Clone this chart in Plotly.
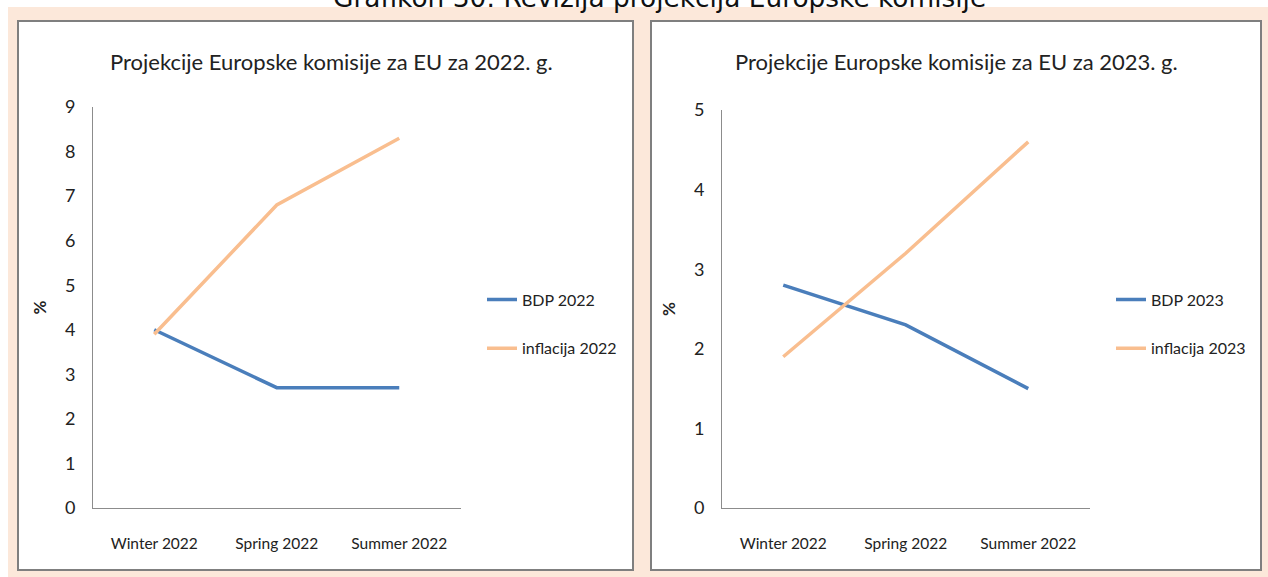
import plotly.graph_objects as go

W, H = 1268, 577

categories = ["Winter 2022", "Spring 2022", "Summer 2022"]
bdp_2022 = [4.0, 2.7, 2.7]
infl_2022 = [3.9, 6.8, 8.3]
bdp_2023 = [2.8, 2.3, 1.5]
infl_2023 = [1.9, 3.2, 4.6]

title_main = "Grafikon 30: Revizija projekcija Europske komisije"
title_left = "Projekcije Europske komisije za EU za 2022. g."
title_right = "Projekcije Europske komisije za EU za 2023. g."

BLUE = "#4a7ebb"
PEACH = "#f9be8f"
BG = "#fce8da"
FONT = "Lato, Open Sans, sans-serif"
TXT = "#222222"

def px(x):
    return x / W

def py(y):
    return 1 - y / H

fig = go.Figure()
fig.add_trace(go.Scatter(x=categories, y=bdp_2022, mode="lines", name="BDP 2022",
                         line=dict(color=BLUE, width=3.5), xaxis="x", yaxis="y",
                         legend="legend", legendgroup="a"))
fig.add_trace(go.Scatter(x=categories, y=infl_2022, mode="lines", name="inflacija 2022",
                         line=dict(color=PEACH, width=3.5), xaxis="x", yaxis="y",
                         legend="legend", legendgroup="b"))
fig.add_trace(go.Scatter(x=categories, y=bdp_2023, mode="lines", name="BDP 2023",
                         line=dict(color=BLUE, width=3.5), xaxis="x2", yaxis="y2",
                         legend="legend2", legendgroup="c"))
fig.add_trace(go.Scatter(x=categories, y=infl_2023, mode="lines", name="inflacija 2023",
                         line=dict(color=PEACH, width=3.5), xaxis="x2", yaxis="y2",
                         legend="legend2", legendgroup="d"))

axis_common = dict(showgrid=False, zeroline=False, showline=True, linecolor="#8c8c8c",
                   linewidth=1, ticks="", automargin=False)
xtick = dict(family=FONT, size=15.5, color=TXT)
ytick = dict(family=FONT, size=18, color=TXT)
ytitle = dict(text="<b>%</b>", font=dict(family=FONT, size=17, color=TXT), standoff=13)

fig.update_layout(
    width=W, height=H,
    margin=dict(l=0, r=0, t=0, b=0, pad=0, autoexpand=False),
    paper_bgcolor="white", plot_bgcolor="rgba(0,0,0,0)",
    xaxis=dict(axis_common, domain=[px(93), px(460.5)], range=[-0.5, 2.5], anchor="y",
               ticklabelstandoff=21, tickfont=xtick),
    yaxis=dict(axis_common, domain=[py(508), py(107)], range=[0, 9], dtick=1, anchor="x",
               ticklabelstandoff=13, tickfont=ytick, title=ytitle),
    xaxis2=dict(axis_common, domain=[px(722), px(1089.5)], range=[-0.5, 2.5], anchor="y2",
                ticklabelstandoff=21, tickfont=xtick),
    yaxis2=dict(axis_common, domain=[py(508), py(110)], range=[0, 5], dtick=1, anchor="x2",
                ticklabelstandoff=13, tickfont=ytick, title=ytitle),
    legend=dict(x=px(482), y=py(324), xanchor="left", yanchor="middle",
                bgcolor="rgba(0,0,0,0)", tracegroupgap=25,
                font=dict(family=FONT, size=16, color=TXT)),
    legend2=dict(x=px(1111), y=py(324), xanchor="left", yanchor="middle",
                 bgcolor="rgba(0,0,0,0)", tracegroupgap=25,
                 font=dict(family=FONT, size=16, color=TXT)),
    showlegend=True,
)

shapes = [
    dict(type="rect", xref="paper", yref="paper", x0=px(8), x1=1, y0=0, y1=py(7),
         fillcolor=BG, line=dict(width=0), layer="below"),
    dict(type="rect", xref="paper", yref="paper", x0=px(18), x1=px(633), y0=py(570), y1=py(21),
         fillcolor="white", line=dict(color="#7f7f7f", width=2), layer="below"),
    dict(type="rect", xref="paper", yref="paper", x0=px(651), x1=px(1261), y0=py(570), y1=py(21),
         fillcolor="white", line=dict(color="#7f7f7f", width=2), layer="below"),
]
fig.update_layout(shapes=shapes)

fig.add_annotation(text=title_main, xref="paper", yref="paper", x=px(659), y=py(-3),
                   xanchor="center", yanchor="middle", showarrow=False,
                   font=dict(family="DejaVu Sans", size=26.4, color="#111111"))
fig.add_annotation(text=title_left, xref="paper", yref="paper", x=px(331), y=py(62),
                   xanchor="center", yanchor="middle", showarrow=False,
                   font=dict(family=FONT, size=22, color=TXT))
fig.add_annotation(text=title_right, xref="paper", yref="paper", x=px(956), y=py(62),
                   xanchor="center", yanchor="middle", showarrow=False,
                   font=dict(family=FONT, size=22, color=TXT))

fig.write_html("out.html", config={"displayModeBar": False},
               post_script="document.body.style.margin='0';document.body.style.overflow='hidden';")
